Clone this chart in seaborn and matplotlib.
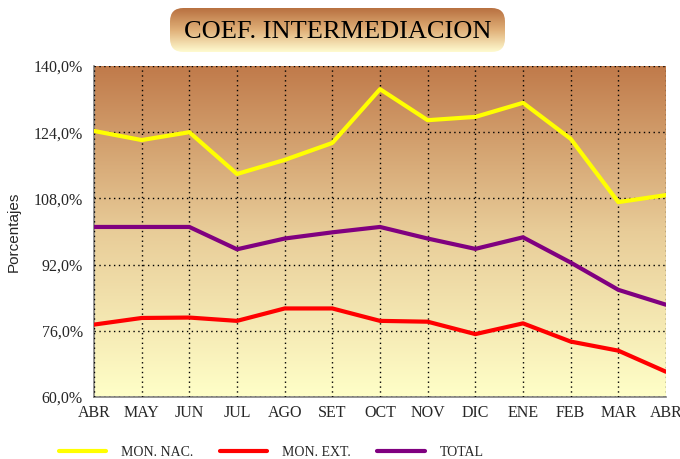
import numpy as np
import pandas as pd
import matplotlib
matplotlib.use("Agg")
import matplotlib.pyplot as plt
import seaborn as sns
from matplotlib.colors import LinearSegmentedColormap
from matplotlib.patches import FancyBboxPatch
from matplotlib.lines import Line2D

# datos
meses = ["ABR", "MAY", "JUN", "JUL", "AGO", "SET", "OCT", "NOV", "DIC", "ENE", "FEB", "MAR", "ABR"]
mon_nac = [124.3, 122.1, 124.0, 113.9, 117.3, 121.4, 134.4, 126.9, 127.7, 131.1, 122.4, 107.1, 108.8]
mon_ext = [77.5, 79.1, 79.2, 78.4, 81.4, 81.4, 78.4, 78.2, 75.2, 77.8, 73.4, 71.2, 66.1]
total = [101.1, 101.1, 101.1, 95.7, 98.3, 99.8, 101.1, 98.3, 95.8, 98.6, 92.5, 85.9, 82.3]
series = ["MON. NAC.", "MON. EXT.", "TOTAL"]
colores = ["#FFFF00", "#FF0000", "#800080"]
y_ticks = [60, 76, 92, 108, 124, 140]

df = pd.DataFrame({"pos": range(len(meses)), "MON. NAC.": mon_nac,
                   "MON. EXT.": mon_ext, "TOTAL": total})
df_largo = df.melt(id_vars="pos", var_name="serie", value_name="valor")

sns.set_style("white")
plt.rcParams["font.family"] = ["Liberation Serif", "DejaVu Serif"]

fig = plt.figure(figsize=(6.8, 4.59), dpi=100)
ax = fig.add_axes([94 / 680, 1 - 397 / 459, 572 / 680, 331 / 459])

# fondo degradado
degradado = LinearSegmentedColormap.from_list("fondo", ["#FFFFC8", "#E8CC98", "#C07A4A"])
ax.imshow(np.linspace(0, 1, 256).reshape(-1, 1), cmap=degradado, origin="lower",
          extent=[0, 1, 0, 1], transform=ax.transAxes, aspect="auto", zorder=0)

sns.lineplot(data=df_largo, x="pos", y="valor", hue="serie", hue_order=series,
             palette=colores, linewidth=3, ax=ax, legend=False, zorder=3)

ax.set_xlim(0, len(meses) - 1)
ax.set_ylim(60, 140)
ax.set_xticks(range(len(meses)))
ax.set_xticklabels(meses)
ax.set_yticks(y_ticks)
ax.set_yticklabels([f"{v:.1f}%".replace(".", ",") for v in y_ticks])
ax.tick_params(axis="y", labelsize=11.5, length=0, pad=8)
ax.tick_params(axis="x", labelsize=11.5, length=0, pad=6)
ax.set_xlabel("")
ax.set_ylabel("Porcentajes", family=["Liberation Sans", "DejaVu Sans"], fontsize=11,
              labelpad=9)
ax.grid(True, color="black", linestyle=(0, (1, 2.5)), linewidth=1)
ax.set_axisbelow(False)
for s in ["top", "right"]:
    ax.spines[s].set_visible(False)
ax.spines["left"].set_color("#808080")
ax.spines["bottom"].set_color("#808080")
ax.spines["left"].set_linewidth(1.2)
ax.spines["bottom"].set_linewidth(1.2)

# titulo en caja redondeada con degradado
tax = fig.add_axes([170 / 680, 1 - 52 / 459, 335 / 680, 44 / 459])
tax.set_axis_off()
caja_grad = LinearSegmentedColormap.from_list("titulo", ["#FFFBD0", "#E0B078", "#B87040"])
img = tax.imshow(np.linspace(0, 1, 256).reshape(-1, 1), cmap=caja_grad, origin="lower",
                 extent=[0, 1, 0, 1], aspect="auto")
caja = FancyBboxPatch((0.0, 0.0), 1, 1, boxstyle="round,pad=0,rounding_size=0.04",
                      transform=tax.transAxes, facecolor="none", edgecolor="none",
                      mutation_aspect=335 / 44)
tax.add_patch(caja)
img.set_clip_path(caja)
tax.set_xlim(0, 1)
tax.set_ylim(0, 1)
tax.text(0.5, 0.45, "COEF. INTERMEDIACION", ha="center", va="center", fontsize=19,
         color="black")

# leyenda
handles = [Line2D([0], [0], color=c, linewidth=3) for c in colores]
fig.legend(handles, series, loc="center left", bbox_to_anchor=(46 / 680, 1 - 452 / 459),
           ncol=3, frameon=False, fontsize=10, handlelength=3.4, handletextpad=1.1,
           columnspacing=1.9)

fig.savefig("out.png", dpi=100)
